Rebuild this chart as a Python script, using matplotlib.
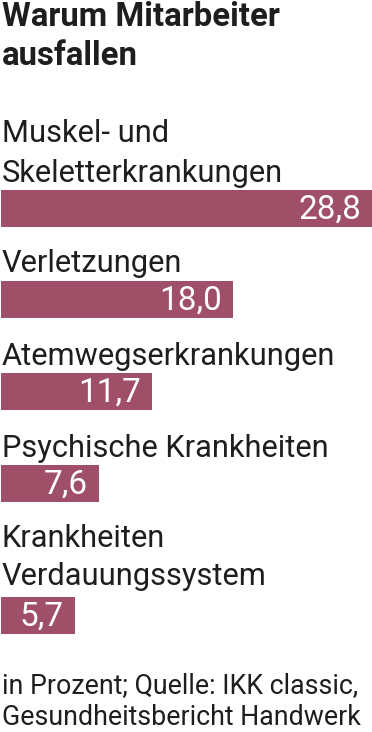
import matplotlib
matplotlib.use("Agg")
import matplotlib.pyplot as plt

categories = ["Muskel- und\nSkeletterkrankungen", "Verletzungen", "Atemwegserkrankungen",
              "Psychische Krankheiten", "Krankheiten\nVerdauungssystem"]
values = [28.8, 18.0, 11.7, 7.6, 5.7]
value_labels = ["28,8", "18,0", "11,7", "7,6", "5,7"]
title = "Warum Mitarbeiter\nausfallen"
footer = "in Prozent; Quelle: IKK classic,\nGesundheitsbericht Handwerk"

W, H = 372, 732
BAR_COLOR = "#9f5068"
TEXT_COLOR = "#1e1e1e"
FONT = "Roboto"

fig = plt.figure(figsize=(W / 100, H / 100), dpi=100)
fig.patch.set_facecolor("white")

# axes in pixel-like coordinates: x in data units, y in pixels from top
px_per_unit = 12.9
ax = fig.add_axes([1 / W, 0, (W - 1) / W, 1])
ax.set_xlim(0, (W - 1) / px_per_unit)
ax.set_ylim(H, 0)
ax.axis("off")

bar_centers = [208.5, 299.5, 391.5, 483.5, 615.5]
bar_h = 37
ax.barh(bar_centers, values, height=bar_h, color=BAR_COLOR, edgecolor="none")

renderer = fig.canvas.get_renderer()


def fit_size(text, target_w, weight="normal", base=20):
    t = fig.text(0, 0, text, fontsize=base, family=FONT, weight=weight)
    w = t.get_window_extent(renderer).width
    t.remove()
    return base * target_w / w


def ptext(x, y_baseline, s, size, weight="normal", color=TEXT_COLOR, ha="left"):
    fig.text(x / W, 1 - y_baseline / H, s, fontsize=size, family=FONT,
             weight=weight, color=color, ha=ha, va="baseline")


title_size = fit_size("Warum Mitarbeiter", 277, weight="bold")
ptext(2, 26, "Warum Mitarbeiter", title_size, weight="bold")
ptext(2, 65, "ausfallen", title_size, weight="bold")

label_size = fit_size("Skeletterkrankungen", 280)
label_baselines = [[142, 182], [272], [365], [457], [547, 585]]
for cat, bases in zip(categories, label_baselines):
    for line, b in zip(cat.split("\n"), bases):
        ptext(2, b, line, label_size)

value_size = label_size * 1.08
for v, lab, c in zip(values, value_labels, bar_centers):
    x_end = 1 + v * px_per_unit
    ptext(x_end - 11, c + 10, lab, value_size, color="white", ha="right")

foot_size = fit_size("Gesundheitsbericht Handwerk", 357)
ptext(2, 693, "in Prozent; Quelle: IKK classic,", foot_size)
ptext(2, 725, "Gesundheitsbericht Handwerk", foot_size)

fig.savefig("out.png", dpi=100, facecolor="white")
